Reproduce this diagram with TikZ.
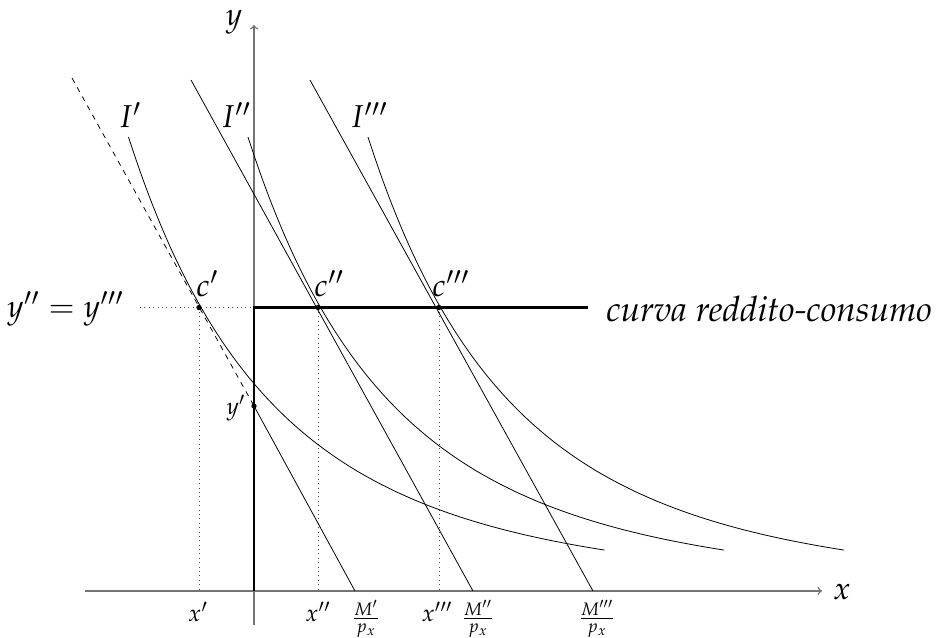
\documentclass[tikz,border=0pt]{standalone}
\usepackage[T1]{fontenc}
\usepackage{mathpazo}
\newcommand\labbig{\fontsize{18}{21}\selectfont}
\newcommand\labtext{\fontsize{20}{24}\selectfont}
\newcommand\labsmall{\fontsize{13.5}{16}\selectfont}
\begin{document}
\begin{tikzpicture}[x=0.02cm,y=-0.02cm,
  axis/.style={draw=black!55, line width=0.8pt},
  budget/.style={draw=black, line width=0.45pt},
  icurve/.style={draw=black, line width=0.45pt},
  guide/.style={draw=black!70, line width=0.5pt, dotted},
  path/.style={draw=black, line width=1.2pt},
  big/.style={inner sep=0pt, font=\labbig},
  small/.style={inner sep=0pt, font=\labsmall},
  dot/.style={circle, fill=black, inner sep=0pt, minimum size=3pt}]
\useasboundingbox (0,0) rectangle (941,637);
% coordinates
\coordinate (O) at (254,591);
\coordinate (xa0) at (85,591);
\coordinate (xa1) at (822,591);
\coordinate (ya0) at (254,625);
\coordinate (ya1) at (254,25);
\coordinate (top) at (254,307.5);
\coordinate (hr) at (588,307.5);
\coordinate (dl) at (140,307.5);
\coordinate (c1) at (199,307.5);
\coordinate (c2) at (318,307.5);
\coordinate (c3) at (439,307.5);
\coordinate (yp) at (254,406);
\coordinate (d1) at (72,78);
\coordinate (M1) at (355,591);
\coordinate (L2a) at (191,80);
\coordinate (M2) at (473,591);
\coordinate (L3a) at (310,80);
\coordinate (M3) at (593,591);
% dotted guides
\draw[guide] (dl) -- (top);
\draw[guide] (c1) -- (c1 |- O);
\draw[guide] (c2) -- (c2 |- O);
\draw[guide] (c3) -- (c3 |- O);
% axes
\draw[axis,->] (xa0) -- (xa1);
\draw[axis,->] (ya0) -- (ya1);
% indifference curves
\draw[icurve] plot[domain=-6:470,samples=150] ({254-119.5+\x},{591-454*pow((\x+600)/594,-4.088)});
\draw[icurve] plot[domain=-6:470,samples=150] ({254+\x},{591-454*pow((\x+600)/594,-4.088)});
\draw[icurve] plot[domain=-6:470,samples=150] ({254+120+\x},{591-454*pow((\x+600)/594,-4.088)});
% budget lines
\draw[budget, dashed] (d1) -- (yp);
\draw[budget] (yp) -- (M1);
\draw[budget] (L2a) -- (M2);
\draw[budget] (L3a) -- (M3);
% income-consumption curve
\draw[path] (O) -- (top) -- (hr);
% points
\node[dot] (p1) at (c1) {};
\node[dot] (p2) at (c2) {};
\node[dot] (p3) at (c3) {};
\node[dot] (p0) at (yp) {};
% labels
\node[big] (ylab) at (234,22) {$y$};
\node[big] (xlab) at (842,592) {$x$};
\node[big] (I1) at (130,115) {$I'$};
\node[big] (I2) at (236,115) {$I''$};
\node[big] (I3) at (369,115) {$I'''$};
\node[big, anchor=base west] (cl1) at (196,296) {$c'$};
\node[big, anchor=base west] (cl2) at (314,296) {$c''$};
\node[big, anchor=base west] (cl3) at (432,296) {$c'''$};
\node[big, anchor=east] (yeq) at (124,309) {$y''=y'''$};
\node[big, font=\labtext, anchor=west] (rc) at (606,309) {\textit{curva reddito-consumo}};
\node[small] (ypl) at (236,408) {$y'$};
\node[small] (x1) at (198,612) {$x'$};
\node[small] (x2) at (318,612) {$x''$};
\node[small] (x3) at (437,612) {$x'''$};
\node[small] (m1) at (366,619) {$\frac{M'}{p_x}$};
\node[small] (m2) at (478,619) {$\frac{M''}{p_x}$};
\node[small] (m3) at (597,619) {$\frac{M'''}{p_x}$};
\end{tikzpicture}
\end{document}
